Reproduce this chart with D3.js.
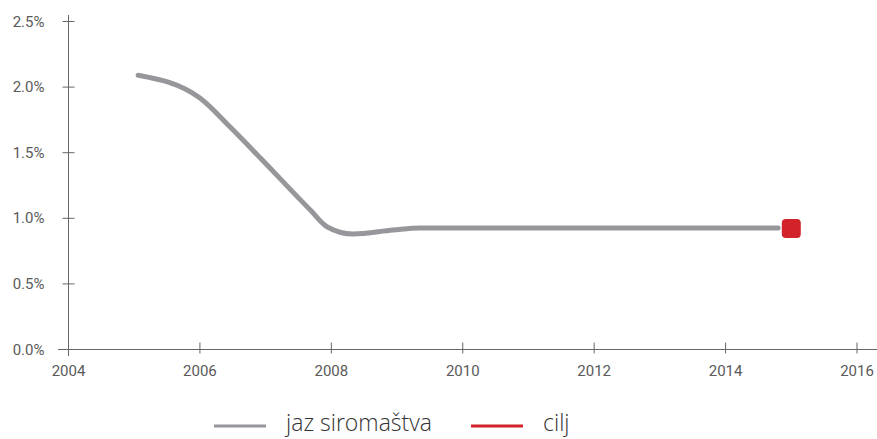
<!DOCTYPE html>
<html>
<head>
<meta charset="utf-8">
<script src="https://cdn.jsdelivr.net/npm/d3@7"></script>
<style>
body { margin: 0; background: #fff; }
svg text { font-family: Roboto, "Liberation Sans", sans-serif; }
</style>
</head>
<body>
<div id="chart"></div>
<script>
// poverty gap
var years = [2005.06, 2006.0, 2006.46, 2006.92, 2007.68, 2007.94, 2008.33, 2008.94, 2009.35, 2014.8];
var gap = [2.09, 1.917, 1.696, 1.46, 1.063, 0.934, 0.88, 0.91, 0.926, 0.926];
var targetYear = [2015];
var targetValue = [0.922];
var xTicks = [2004, 2006, 2008, 2010, 2012, 2014, 2016];
var yTicks = [0, 0.5, 1.0, 1.5, 2.0, 2.5];
var legendNames = ["jaz siromaštva", "cilj"];
var legendColors = ["#97979b", "#d2232a"];

var width = 877, height = 439;
var svg = d3.select("#chart").append("svg").attr("width", width).attr("height", height);

var x = d3.scaleLinear().domain([2004, 2016]).range([68.5, 857]);
var y = d3.scaleLinear().domain([0, 2.5]).range([349.5, 21.5]);

var axisColor = "#666";

// y axis
var yAxis = svg.append("g").attr("transform", "translate(" + x(2004) + ",0)");
yAxis.append("line")
    .attr("x1", 0).attr("x2", 0)
    .attr("y1", 15).attr("y2", 356)
    .attr("stroke", axisColor);
yAxis.selectAll("line.tick").data(yTicks).enter().append("line")
    .attr("class", "tick")
    .attr("x1", -6).attr("x2", 6)
    .attr("y1", function(d) { return y(d); })
    .attr("y2", function(d) { return y(d); })
    .attr("stroke", axisColor);
yAxis.selectAll("text").data(yTicks).enter().append("text")
    .attr("x", -24)
    .attr("y", function(d) { return y(d) + 5; })
    .attr("text-anchor", "end")
    .attr("font-size", "15px")
    .attr("fill", "#5a5a5a")
    .text(function(d) { return d.toFixed(1) + "%"; });

// x axis
var xAxis = svg.append("g").attr("transform", "translate(0," + y(0) + ")");
xAxis.append("line")
    .attr("x1", 58).attr("x2", 877)
    .attr("y1", 0).attr("y2", 0)
    .attr("stroke", axisColor);
xAxis.selectAll("line.tick").data(xTicks).enter().append("line")
    .attr("class", "tick")
    .attr("x1", function(d) { return x(d); })
    .attr("x2", function(d) { return x(d); })
    .attr("y1", -7).attr("y2", 4)
    .attr("stroke", axisColor);
xAxis.selectAll("text").data(xTicks).enter().append("text")
    .attr("x", function(d) { return x(d); })
    .attr("y", 26)
    .attr("text-anchor", "middle")
    .attr("font-size", "15px")
    .attr("fill", "#5a5a5a")
    .text(function(d) { return d; });

// gap line
var line = d3.line()
    .x(function(d) { return x(d[0]); })
    .y(function(d) { return y(d[1]); })
    .curve(d3.curveMonotoneX);

svg.append("path")
    .datum(d3.zip(years, gap))
    .attr("d", line)
    .attr("fill", "none")
    .attr("stroke", legendColors[0])
    .attr("stroke-width", 5)
    .attr("stroke-linecap", "round");

// target marker
var sq = 19;
svg.selectAll("rect.target").data(d3.zip(targetYear, targetValue)).enter().append("rect")
    .attr("class", "target")
    .attr("x", function(d) { return x(d[0]) - sq / 2; })
    .attr("y", function(d) { return y(d[1]) - sq / 2; })
    .attr("width", sq).attr("height", sq)
    .attr("rx", 4).attr("ry", 4)
    .attr("fill", legendColors[1]);

// legend
var legendX = [214, 471];
var legend = svg.selectAll("g.legend").data(legendNames).enter().append("g")
    .attr("class", "legend")
    .attr("transform", function(d, i) { return "translate(" + legendX[i] + ",426)"; });
legend.append("line")
    .attr("x1", 0).attr("x2", 52)
    .attr("y1", 0).attr("y2", 0)
    .attr("stroke", function(d, i) { return legendColors[i]; })
    .attr("stroke-width", 3);
legend.append("text")
    .attr("x", 72)
    .attr("y", 5)
    .attr("font-size", "23px")
    .attr("fill", "#333")
    .style("font-family", "'Open Sans', sans-serif")
    .style("font-weight", 300)
    .text(function(d) { return d; });
</script>
</body>
</html>
